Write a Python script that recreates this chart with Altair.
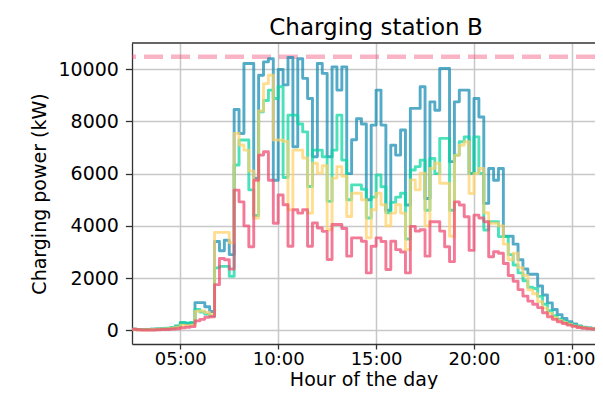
import altair as alt
import pandas as pd

# ---- data (15-minute steps starting at 02:30) ----
START_HOUR = 2.5
STEP_HOURS = 0.25

BLUE = [40, 30, 30, 30, 40, 50, 60, 70, 90, 140, 280, 250, 270, 1060, 1060, 900, 720,
        3400, 3050, 3450, 2900,
        8460, 7540, 10220, 10220, 5830, 9770, 10280, 10400, 5750, 9990,
        9400, 10450, 7030, 10400, 9650, 8880, 6650, 10220, 9840, 6650,
        10090, 9200, 10090, 6000, 7300, 8100, 7900, 5000,
        7860, 9200, 7860, 4600, 7090, 6710, 7670, 4800, 8500, 8500,
        9330, 5050, 8750, 8430, 10030, 10030, 6460, 8750, 9200, 9200,
        6010, 8880, 8170, 4860, 6200, 5750, 6200, 3600,
        3600, 3300, 2700, 2350, 2150, 2150, 1700, 1350, 1050, 800,
        600, 450, 330, 240, 170, 120, 90, 60, 50, 40]
GREEN = [40, 30, 30, 30, 40, 50, 60, 80, 100, 180, 300, 280, 300, 800, 700, 620, 560,
         2390, 2450, 2450, 2070,
         6330, 7290, 7290, 5380, 4400, 8370, 8800, 9200, 8880, 9330,
         5850, 8240, 8240, 7900, 7600, 5510, 6900, 6900, 6650, 4940,
         6900, 8240, 6520, 5000, 5570, 5570, 5400, 4300,
         5100, 5950, 5500, 4500, 4900, 5100, 5250, 3500, 6140, 6270,
         6520, 4600, 6580, 6000, 7350, 7350, 4600, 6710, 7220, 7410,
         6010, 7410, 6010, 3840, 4160, 4160, 3590, 3590,
         2900, 2500, 2200, 1900, 1650, 1600, 1300, 1000, 750, 560,
         430, 340, 260, 200, 150, 110, 80, 60, 50, 40]
YELLOW = [30, 20, 20, 20, 30, 40, 50, 60, 80, 120, 200, 180, 200, 730, 740, 680, 600,
          3750, 3750, 3750, 3350,
          7540, 7100, 6900, 6100, 4300, 8400, 9450, 9770, 7290, 7290,
          7230, 4620, 6900, 6900, 6600, 4490, 6400, 6020, 6300, 3850,
          5830, 6270, 5900, 4360, 5250, 5250, 5000, 3540,
          4620, 5250, 4810, 4000, 4490, 4810, 4490, 3090, 5760, 5380,
          6020, 4000, 6200, 6400, 5630, 5630, 3600, 6700, 7090, 7220,
          5240, 6010, 6200, 4500, 4100, 4100, 4000, 3300,
          2700, 2950, 2400, 2100, 1550, 1400, 1100, 850, 650, 480,
          380, 300, 230, 170, 130, 100, 70, 60, 50, 40]
RED = [40, 20, 10, 10, 10, 20, 30, 30, 50, 60, 100, 120, 140, 360, 420, 500, 520,
       1750, 2750, 2700, 2350,
       5370, 4920, 4000, 3200, 5750, 6710, 6840, 5750, 4100, 5180,
       4810, 3220, 4620, 4490, 4620, 3220, 4110, 3920, 3790, 2710,
       4050, 4050, 3900, 2840, 3540, 3540, 3410, 2200,
       3220, 3540, 3400, 2330, 3410, 3090, 3000, 2200, 3980, 3800,
       3850, 2840, 4160, 4160, 3800, 3200, 2630, 4920, 4800, 4350,
       3060, 4410, 4300, 4160, 2820, 3010, 2950, 2560,
       2100, 1880, 1560, 1310, 1120, 1000, 870, 670, 520, 420,
       330, 260, 200, 150, 110, 80, 60, 50, 40, 30]

SERIES = [BLUE, GREEN, YELLOW, RED]
SERIES_COLORS = ["#118ab2", "#06d6a0", "#ffd166", "#ef476f"]

CAPACITY_KW = 10480
X_DOMAIN = [2.533, 26.18]
Y_DOMAIN = [-524, 11004]
X_TICKS = [5, 10, 15, 20, 25]
X_TICK_LABELS = ["05:00", "10:00", "15:00", "20:00", "01:00"]
Y_TICKS = [0, 2000, 4000, 6000, 8000, 10000]

FONT = "DejaVu Sans"

label_expr = " : ".join(
    f"datum.value == {v} ? '{lab}'" for v, lab in zip(X_TICKS, X_TICK_LABELS)
) + " : ''"

x_enc = alt.X(
    "hour:Q",
    scale=alt.Scale(domain=X_DOMAIN, nice=False, zero=False),
    axis=alt.Axis(
        values=X_TICKS, labelExpr=label_expr, title="Hour of the day",
        grid=True, labelFlush=False, labelOverlap=False, tickSize=5,
        labelFontSize=18, labelPadding=1,
        # keep the last label inside the page edge
        labelOffset={"condition": {"test": f"datum.value == {X_TICKS[-1]}", "value": -3},
                     "value": 0},
        titleBaseline="alphabetic", titleY=41.5,
    ),
)
y_enc = alt.Y(
    "kw:Q",
    scale=alt.Scale(domain=Y_DOMAIN, nice=False, zero=False),
    axis=alt.Axis(values=Y_TICKS, format="d", title="Charging power (kW)",
                  grid=True, labelOverlap=False, labelPadding=7, titlePadding=8),
)

cap_df = pd.DataFrame({"kw": [CAPACITY_KW]})
cap_rule = alt.Chart(cap_df).mark_rule(
    color="#ef476f", opacity=0.4, strokeWidth=4.5, strokeDash=[19, 8], clip=True
).encode(y=y_enc)

layers = [cap_rule]
for values, color in zip(SERIES, SERIES_COLORS):
    hours = [START_HOUR + i * STEP_HOURS for i in range(len(values))]
    # repeat the last value one step later so the last step is drawn
    hours.append(hours[-1] + STEP_HOURS)
    vals = list(values) + [values[-1]]
    df = pd.DataFrame({"hour": hours, "kw": vals})
    layers.append(
        alt.Chart(df).mark_line(
            interpolate="step-after", color=color, strokeWidth=2.9,
            opacity=0.72, clip=True, strokeJoin="round"
        ).encode(x=x_enc, y=y_enc)
    )

top_df = pd.DataFrame({"kw": [Y_DOMAIN[1]]})
top_spine = alt.Chart(top_df).mark_rule(color="#333333", strokeWidth=1.3).encode(y=y_enc)
layers.append(top_spine)

chart = (
    alt.layer(*layers)
    .properties(
        width=463,
        height=301,
        title=alt.TitleParams(
            "Charging station B", font=FONT, fontSize=23, fontWeight="normal",
            color="black", anchor="middle", offset=2.5, baseline="top", dx=12.5
        ),
        autosize=alt.AutoSizeParams(type="none"),
        padding={"left": 124, "top": 35, "right": 0, "bottom": 45},
    )
    .configure_view(stroke=None)
    .configure_axis(
        domainColor="#333333", domainWidth=1.3,
        tickColor="#333333", tickWidth=1.3, tickSize=6.6,
        labelFont=FONT, labelFontSize=19, labelColor="black",
        titleFont=FONT, titleFontSize=19, titleFontWeight="normal", titleColor="black",
        gridColor="#c8c8c8", gridWidth=1.5,
    )
)

chart.save("out.html", embed_options={"renderer": "svg", "actions": False})
